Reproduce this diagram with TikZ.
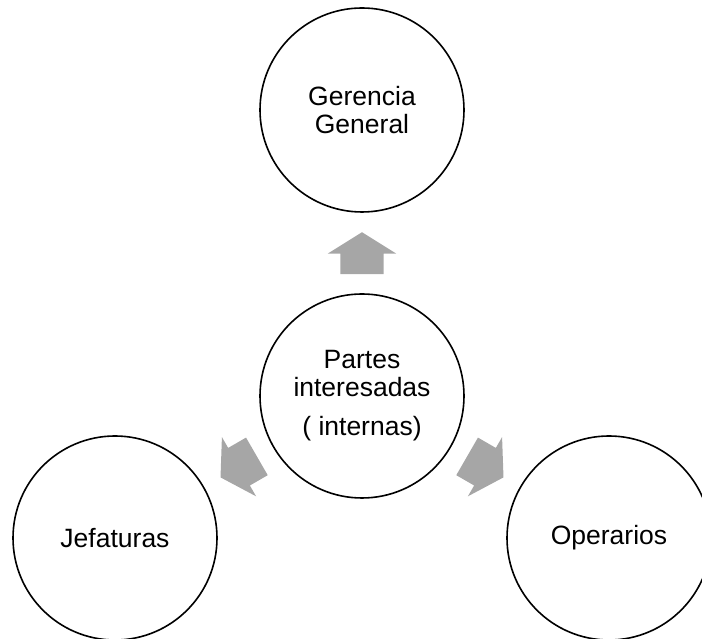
\documentclass[tikz,border=0pt]{standalone}
\usepackage{fontspec}
\setmainfont{Liberation Sans}
\usetikzlibrary{calc,shapes.arrows}
\definecolor{paGray}{RGB}{166,166,166}

\begin{document}
\begin{tikzpicture}[x=1pt,y=1pt,
  stake/.style={circle, draw=black, line width=1.6pt, minimum size=204pt, inner sep=0pt,
    align=center, font=\fontsize{26.5}{28}\selectfont},
  blockarrow/.style={single arrow, fill=paGray, draw=none, inner sep=0pt, inner ysep=21.5pt,
    minimum height=42pt, single arrow head extend=12.5pt, single arrow tip angle=116}]
  \useasboundingbox (0,0) rectangle (702,639);

  % Stakeholders
  \node[stake] (partes) at (362,243) {Partes\\interesadas\\[11pt]( internas)};
  \node[stake] (gerencia) at (362,529) {Gerencia\\General};
  \node[stake] (jefaturas) at (115,101) {Jefaturas};
  \node[stake] (operarios) at (609,101) {Operarios};

  % Block arrows
  \node[blockarrow, rotate=90] (toGerencia) at ($(partes)!0.5!(gerencia)!7pt!(partes)$) {};
  \node[blockarrow, rotate=210] (toJefaturas) at ($(partes)!0.5!(jefaturas)!7pt!(partes)$) {};
  \node[blockarrow, rotate=330] (toOperarios) at ($(partes)!0.5!(operarios)!7pt!(partes)$) {};
\end{tikzpicture}
\end{document}
